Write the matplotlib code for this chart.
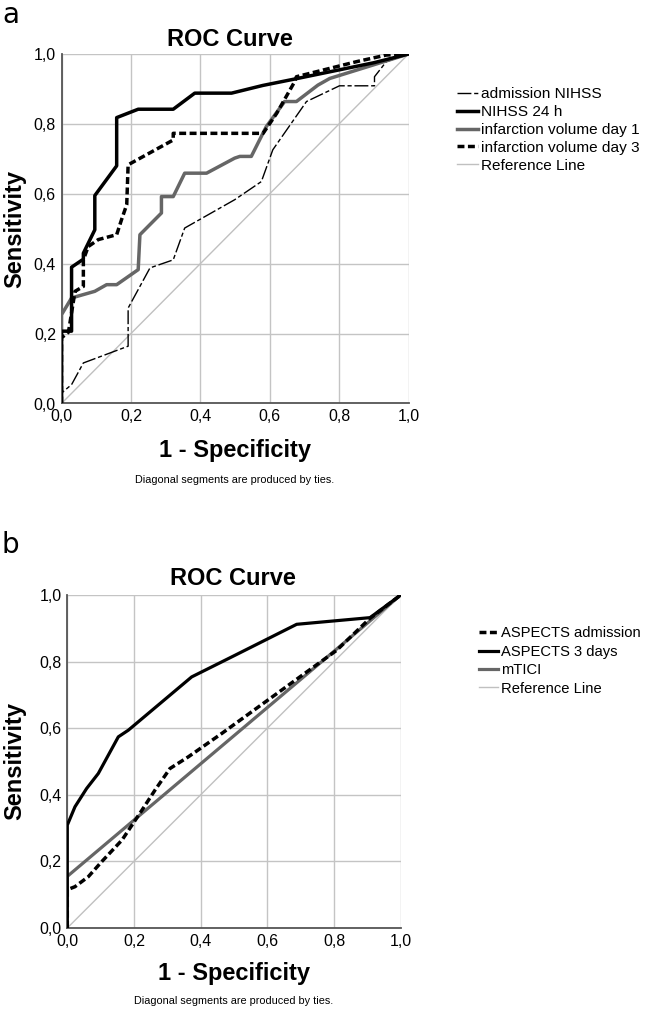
import matplotlib
matplotlib.use("Agg")
import matplotlib.pyplot as plt
from matplotlib.lines import Line2D

# ---------------- data ----------------
ticks = [0.0, 0.2, 0.4, 0.6, 0.8, 1.0]
tick_labels = ["0,0", "0,2", "0,4", "0,6", "0,8", "1,0"]

# Panel a
adm_nihss_fpr = [0, 0, 0.029, 0.063, 0.192, 0.192, 0.255, 0.322, 0.355, 0.499, 0.576, 0.609, 0.706, 0.801, 0.902, 0.902, 0.936, 1.0]
adm_nihss_tpr = [0, 0.03, 0.054, 0.116, 0.164, 0.273, 0.388, 0.411, 0.502, 0.583, 0.635, 0.726, 0.864, 0.909, 0.909, 0.935, 0.978, 1.0]

nihss24_fpr = [0, 0, 0.029, 0.029, 0.063, 0.063, 0.096, 0.096, 0.159, 0.159, 0.221, 0.322, 0.384, 0.49, 0.58, 0.68, 0.9, 1.0]
nihss24_tpr = [0, 0.207, 0.207, 0.39, 0.413, 0.43, 0.497, 0.595, 0.68, 0.818, 0.842, 0.842, 0.888, 0.888, 0.91, 0.93, 0.975, 1.0]

vol1_fpr = [0, 0, 0.029, 0.096, 0.13, 0.159, 0.221, 0.226, 0.288, 0.288, 0.322, 0.355, 0.418, 0.499, 0.514, 0.547, 0.59, 0.643, 0.677, 0.739, 0.773, 1.0]
vol1_tpr = [0, 0.254, 0.302, 0.321, 0.34, 0.34, 0.383, 0.483, 0.545, 0.592, 0.592, 0.659, 0.659, 0.702, 0.707, 0.707, 0.792, 0.864, 0.864, 0.911, 0.93, 1.0]

vol3_fpr = [0, 0, 0.02, 0.039, 0.063, 0.063, 0.077, 0.106, 0.159, 0.173, 0.188, 0.192, 0.322, 0.322, 0.581, 0.62, 0.672, 0.677, 0.85, 0.936, 1.0]
vol3_tpr = [0, 0.188, 0.204, 0.321, 0.335, 0.411, 0.449, 0.469, 0.483, 0.526, 0.569, 0.683, 0.754, 0.773, 0.773, 0.83, 0.921, 0.935, 0.978, 0.997, 1.0]

# Panel b
asp_adm_fpr = [0, 0, 0.023, 0.063, 0.103, 0.164, 0.224, 0.263, 0.308, 0.363, 0.463, 0.808, 0.908, 1.0]
asp_adm_tpr = [0, 0.115, 0.124, 0.154, 0.199, 0.264, 0.354, 0.414, 0.479, 0.514, 0.584, 0.834, 0.93, 1.0]

asp3_fpr = [0, 0, 0.023, 0.058, 0.093, 0.153, 0.183, 0.373, 0.503, 0.688, 0.908, 1.0]
asp3_tpr = [0, 0.309, 0.364, 0.419, 0.464, 0.574, 0.594, 0.754, 0.819, 0.912, 0.932, 1.0]

mtici_fpr = [0, 0, 1.0]
mtici_tpr = [0, 0.155, 1.0]

ref_line = [0, 1]

# ---------------- figure ----------------
W, H = 650, 1021
fig = plt.figure(figsize=(W / 100, H / 100), dpi=100)
FONT = "Liberation Sans"
plt.rcParams["font.family"] = [FONT, "DejaVu Sans"]

def px_axes(l, t, r, b):
    return fig.add_axes([l / W, 1 - b / H, (r - l) / W, (b - t) / H])

def style_axes(ax):
    ax.set_xlim(0, 1)
    ax.set_ylim(0, 1)
    ax.set_xticks(ticks)
    ax.set_yticks(ticks)
    ax.set_xticklabels(tick_labels)
    ax.set_yticklabels(tick_labels)
    ax.tick_params(length=0, labelsize=11.5, pad=4)
    ax.grid(True, color="#c4c4c4", lw=1.0)
    ax.set_axisbelow(True)
    for s in ["top", "right"]:
        ax.spines[s].set_visible(False)
    for s in ["left", "bottom"]:
        ax.spines[s].set_color("#555555")
        ax.spines[s].set_linewidth(1.3)
    for lab in ax.get_xticklabels() + ax.get_yticklabels():
        lab.set_fontfamily(FONT)

REF_C = "#c0c0c0"
GREY = "#666666"

# ---- panel a ----
axa = px_axes(61.5, 54, 408.5, 403.5)
style_axes(axa)
axa.plot(ref_line, ref_line, color=REF_C, lw=1.0, label="Reference Line", zorder=2)
axa.plot(adm_nihss_fpr, adm_nihss_tpr, color="black", lw=1.0, dashes=[10, 2, 3, 2], label="admission NIHSS", zorder=3)
axa.plot(vol1_fpr, vol1_tpr, color=GREY, lw=2.5, label="infarction volume day 1", zorder=3)
axa.plot(vol3_fpr, vol3_tpr, color="black", lw=2.5, dashes=[2, 1], label="infarction volume day 3", zorder=4)
axa.plot(nihss24_fpr, nihss24_tpr, color="black", lw=2.5, label="NIHSS 24 h", zorder=5)

handles_a = [
    Line2D([], [], color="black", lw=1.0, dashes=[10, 2, 3, 2]),
    Line2D([], [], color="black", lw=2.5),
    Line2D([], [], color=GREY, lw=2.5),
    Line2D([], [], color="black", lw=2.5, dashes=[2, 1]),
    Line2D([], [], color=REF_C, lw=1.0),
]
labels_a = ["admission NIHSS", "NIHSS 24 h", "infarction volume day 1", "infarction volume day 3", "Reference Line"]
fig.legend(handles_a, labels_a, loc="center left", bbox_to_anchor=(457 / W, 1 - 130 / H),
           frameon=False, fontsize=11.1, handlelength=1.35, handletextpad=0.2,
           labelspacing=0.25, borderpad=0, borderaxespad=0)

fig.text(229.5 / W, 1 - 40 / H, "ROC Curve", ha="center", va="center", fontsize=17, fontweight="bold")
fig.text(15 / W, 1 - 229 / H, "Sensitivity", ha="center", va="center", rotation=90, fontsize=17, fontweight="bold")
fig.text(235 / W, 1 - 450 / H, "1 - Specificity", ha="center", va="center", fontsize=17, fontweight="bold")
fig.text(235 / W, 1 - 480 / H, "Diagonal segments are produced by ties.", ha="center", va="center", fontsize=7.8)
fig.text(2 / W, 1 - 15 / H, "a", ha="left", va="center", fontsize=20, family="DejaVu Sans")

# ---- panel b ----
axb = px_axes(67.3, 595, 400.7, 928)
style_axes(axb)
axb.plot(ref_line, ref_line, color=REF_C, lw=1.0, zorder=2)
axb.plot(mtici_fpr, mtici_tpr, color=GREY, lw=2.3, zorder=3)
axb.plot(asp_adm_fpr, asp_adm_tpr, color="black", lw=2.5, dashes=[2, 1], zorder=4)
axb.plot(asp3_fpr, asp3_tpr, color="black", lw=2.3, zorder=5)

handles_b = [
    Line2D([], [], color="black", lw=2.5, dashes=[2, 1]),
    Line2D([], [], color="black", lw=2.3),
    Line2D([], [], color=GREY, lw=2.3),
    Line2D([], [], color=REF_C, lw=1.0),
]
labels_b = ["ASPECTS admission", "ASPECTS 3 days", "mTICI", "Reference Line"]
fig.legend(handles_b, labels_b, loc="center left", bbox_to_anchor=(479 / W, 1 - 661 / H),
           frameon=False, fontsize=10.6, handlelength=1.3, handletextpad=0.2,
           labelspacing=0.3, borderpad=0, borderaxespad=0)

fig.text(233 / W, 1 - 578 / H, "ROC Curve", ha="center", va="center", fontsize=17, fontweight="bold")
fig.text(15 / W, 1 - 761 / H, "Sensitivity", ha="center", va="center", rotation=90, fontsize=17, fontweight="bold")
fig.text(234 / W, 1 - 973 / H, "1 - Specificity", ha="center", va="center", fontsize=17, fontweight="bold")
fig.text(234 / W, 1 - 1001 / H, "Diagonal segments are produced by ties.", ha="center", va="center", fontsize=7.8)
fig.text(2 / W, 1 - 545 / H, "b", ha="left", va="center", fontsize=20, family="DejaVu Sans")

fig.savefig("out.png", dpi=100)
